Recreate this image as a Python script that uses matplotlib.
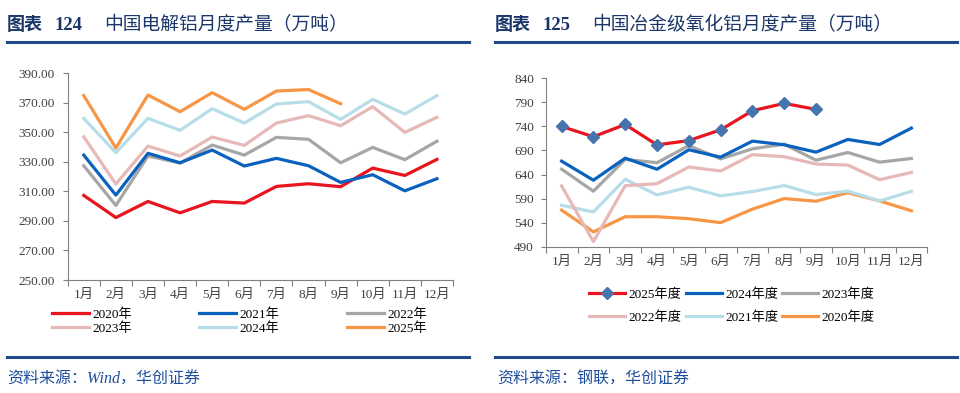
import matplotlib
matplotlib.use("Agg")
import matplotlib.pyplot as plt
from matplotlib.lines import Line2D
import numpy as np

plt.rcParams['font.family'] = ['Liberation Serif', 'Noto Sans CJK SC', 'DejaVu Sans']
plt.rcParams['axes.unicode_minus'] = False

W, H = 960, 393

# ---- data: left chart (electrolytic aluminium, 10k t) ----
months = ['1月', '2月', '3月', '4月', '5月', '6月', '7月', '8月', '9月', '10月', '11月', '12月']
al_2020 = [307.3, 292.3, 303.2, 295.5, 303.2, 302.1, 313.4, 315.2, 313.2, 325.8, 320.8, 331.7]
al_2021 = [334.6, 307.5, 335.8, 329.4, 338.0, 327.2, 332.4, 327.4, 316.1, 321.3, 310.4, 318.6]
al_2022 = [327.4, 300.5, 334.0, 329.2, 341.4, 334.6, 346.6, 345.3, 329.4, 339.8, 331.5, 344.0]
al_2023 = [347.0, 315.0, 340.7, 334.0, 346.8, 341.2, 356.3, 361.3, 354.5, 367.4, 350.0, 360.2]
al_2024 = [359.5, 336.2, 359.5, 351.4, 366.0, 356.3, 369.2, 370.8, 358.8, 372.4, 362.4, 374.9]
al_2025 = [374.9, 339.4, 375.3, 364.0, 376.9, 365.6, 378.0, 379.0, 369.4]

# ---- data: right chart (metallurgical alumina, 10k t) ----
ao_2025 = [740.0, 718.5, 744.0, 701.6, 710.6, 732.9, 772.6, 787.9, 775.4]
ao_2024 = [667.8, 628.2, 674.0, 651.0, 691.4, 676.1, 709.4, 701.8, 686.5, 712.9, 702.4, 736.5]
ao_2023 = [651.1, 605.3, 671.5, 664.6, 700.0, 672.6, 693.4, 703.1, 669.8, 685.8, 665.7, 673.3]
ao_2022 = [616.4, 500.8, 616.8, 621.0, 655.6, 647.3, 681.3, 677.1, 661.8, 659.7, 629.2, 644.4]
ao_2021 = [576.1, 562.2, 630.3, 597.6, 613.6, 595.6, 604.6, 617.1, 598.3, 605.5, 585.1, 605.0]
ao_2020 = [566.0, 520.8, 552.3, 552.3, 548.2, 540.0, 568.0, 590.0, 584.5, 602.3, 585.2, 564.6]

RED = '#E8141E'
BLUE = '#0A62BE'
GRAY = '#A6A6A6'
PINK = '#E6B9B8'
LBLUE = '#B7DEE8'
ORANGE = '#F79646'
NAVY = '#1B3668'
RULE = '#1F4A86'
TICK_C = '#404040'
LEG_FONT = {'family': ['Liberation Serif', 'Noto Sans CJK SC'], 'size': 9.5}


def px_axes(fig, x0, y0, x1, y1):
    return fig.add_axes([x0 / W, 1 - y1 / H, (x1 - x0) / W, (y1 - y0) / H])


def style_axes(ax, ylo, yhi, ystep, fmt, ypad):
    ax.set_xlim(-0.5, 11.5)
    ax.set_ylim(ylo, yhi)
    ax.set_yticks(np.arange(ylo, yhi + 0.1, ystep))
    ax.set_yticklabels([fmt.format(v) for v in np.arange(ylo, yhi + 0.1, ystep)])
    ax.set_xticks(np.arange(-0.5, 12, 1))
    ax.set_xticklabels([])
    ax.set_xticks(np.arange(12), minor=True)
    ax.set_xticklabels(months, minor=True)
    ax.tick_params(axis='x', which='major', length=4, width=0.8, color='#808080', direction='out')
    ax.tick_params(axis='x', which='minor', length=0, pad=6.5, labelsize=9.5, labelcolor=TICK_C)
    ax.tick_params(axis='y', length=3.5, width=0.8, color='#808080', pad=ypad,
                   labelsize=9.5, labelcolor=TICK_C)
    for s in ['top', 'right']:
        ax.spines[s].set_visible(False)
    for s in ['left', 'bottom']:
        ax.spines[s].set_color('#808080')
        ax.spines[s].set_linewidth(0.8)
    ax.set_facecolor('white')


def header(fig, x0, x1, num, title):
    fig.text(x0 / W, 1 - 25 / H, '图表', fontsize=13, fontweight='bold', color=NAVY,
             family=['Noto Sans CJK SC'], va='center')
    fig.text((x0 + 48) / W, 1 - 25 / H, num, fontsize=13.5, fontweight='bold', color=NAVY,
             family=['Liberation Serif'], va='center')
    fig.text((x0 + 97) / W, 1 - 25 / H, title, fontsize=13.5, color=NAVY,
             family=['Noto Sans CJK SC'], va='center')
    fig.add_artist(Line2D([x0 / W, x1 / W], [1 - 41.5 / H, 1 - 41.5 / H],
                          color=RULE, lw=2.2, transform=fig.transFigure))
    fig.add_artist(Line2D([x0 / W, x1 / W], [1 - 356.5 / H, 1 - 356.5 / H],
                          color=RULE, lw=2.2, transform=fig.transFigure))


fig = plt.figure(figsize=(W / 100, H / 100), dpi=100)
fig.patch.set_facecolor('white')

# ---------------- left: 电解铝 ----------------
header(fig, 7, 469, '124', '中国电解铝月度产量（万吨）')
axL = px_axes(fig, 67.7, 73.3, 453, 280)
style_axes(axL, 250, 390, 20, '{:.2f}', 6)
x12 = np.arange(12)
lw = 2.3
l20, = axL.plot(x12, al_2020, color=RED, lw=lw, label='2020年')
l21, = axL.plot(x12, al_2021, color=BLUE, lw=lw, label='2021年')
l22, = axL.plot(x12, al_2022, color=GRAY, lw=lw, label='2022年')
l23, = axL.plot(x12, al_2023, color=PINK, lw=lw, label='2023年')
l24, = axL.plot(x12, al_2024, color=LBLUE, lw=lw, label='2024年')
l25, = axL.plot(np.arange(len(al_2025)), al_2025, color=ORANGE, lw=lw, label='2025年')
for ln in [l22, l23, l24, l25]:
    ln.set_zorder(2)
l21.set_zorder(3)
l20.set_zorder(3)

handlesL = [l20, l23, l21, l24, l22, l25]
fig.legend(handles=handlesL, labels=[h.get_label() for h in handlesL], ncol=3,
           loc='upper left', bbox_to_anchor=(52 / W, 1 - 308 / H), frameon=False,
           handlelength=2.8, handletextpad=0.25, columnspacing=5.1,
           labelspacing=0.12, borderpad=0, borderaxespad=0, prop=LEG_FONT)

fig.text(7 / W, 1 - 380 / H, '资料来源：Wind，华创证券', fontsize=11.5, style='italic',
         color='#1F4E9C', family=['Liberation Serif', 'Noto Sans CJK SC'], va='center')

# ---------------- right: 氧化铝 ----------------
header(fig, 495, 957, '125', '中国冶金级氧化铝月度产量（万吨）')
axR = px_axes(fig, 545.7, 78.3, 927.3, 246.7)
style_axes(axR, 490, 840, 50, '{:.0f}', 5)
r20, = axR.plot(x12, ao_2020, color=ORANGE, lw=lw, label='2020年度')
r21, = axR.plot(x12, ao_2021, color=LBLUE, lw=lw, label='2021年度')
r22, = axR.plot(x12, ao_2022, color=PINK, lw=lw, label='2022年度')
r23, = axR.plot(x12, ao_2023, color=GRAY, lw=lw, label='2023年度')
r24, = axR.plot(x12, ao_2024, color=BLUE, lw=lw, label='2024年度')
r25, = axR.plot(np.arange(len(ao_2025)), ao_2025, color=RED, lw=lw, marker='D',
                markersize=6.5, markerfacecolor='#4674AE', markeredgecolor='#4674AE',
                label='2025年度', zorder=4)

handlesR = [r25, r22, r24, r21, r23, r20]
fig.legend(handles=handlesR, labels=[h.get_label() for h in handlesR], ncol=3,
           loc='upper left', bbox_to_anchor=(589 / W, 1 - 288 / H), frameon=False,
           handlelength=2.75, handletextpad=0.25, columnspacing=0.3,
           labelspacing=0.8, borderpad=0, borderaxespad=0, prop=LEG_FONT)

fig.text(497 / W, 1 - 380 / H, '资料来源：钢联，华创证券', fontsize=11.5, style='italic',
         color='#1F4E9C', family=['Liberation Serif', 'Noto Sans CJK SC'], va='center')

fig.savefig('out.png', dpi=100, facecolor='white')
